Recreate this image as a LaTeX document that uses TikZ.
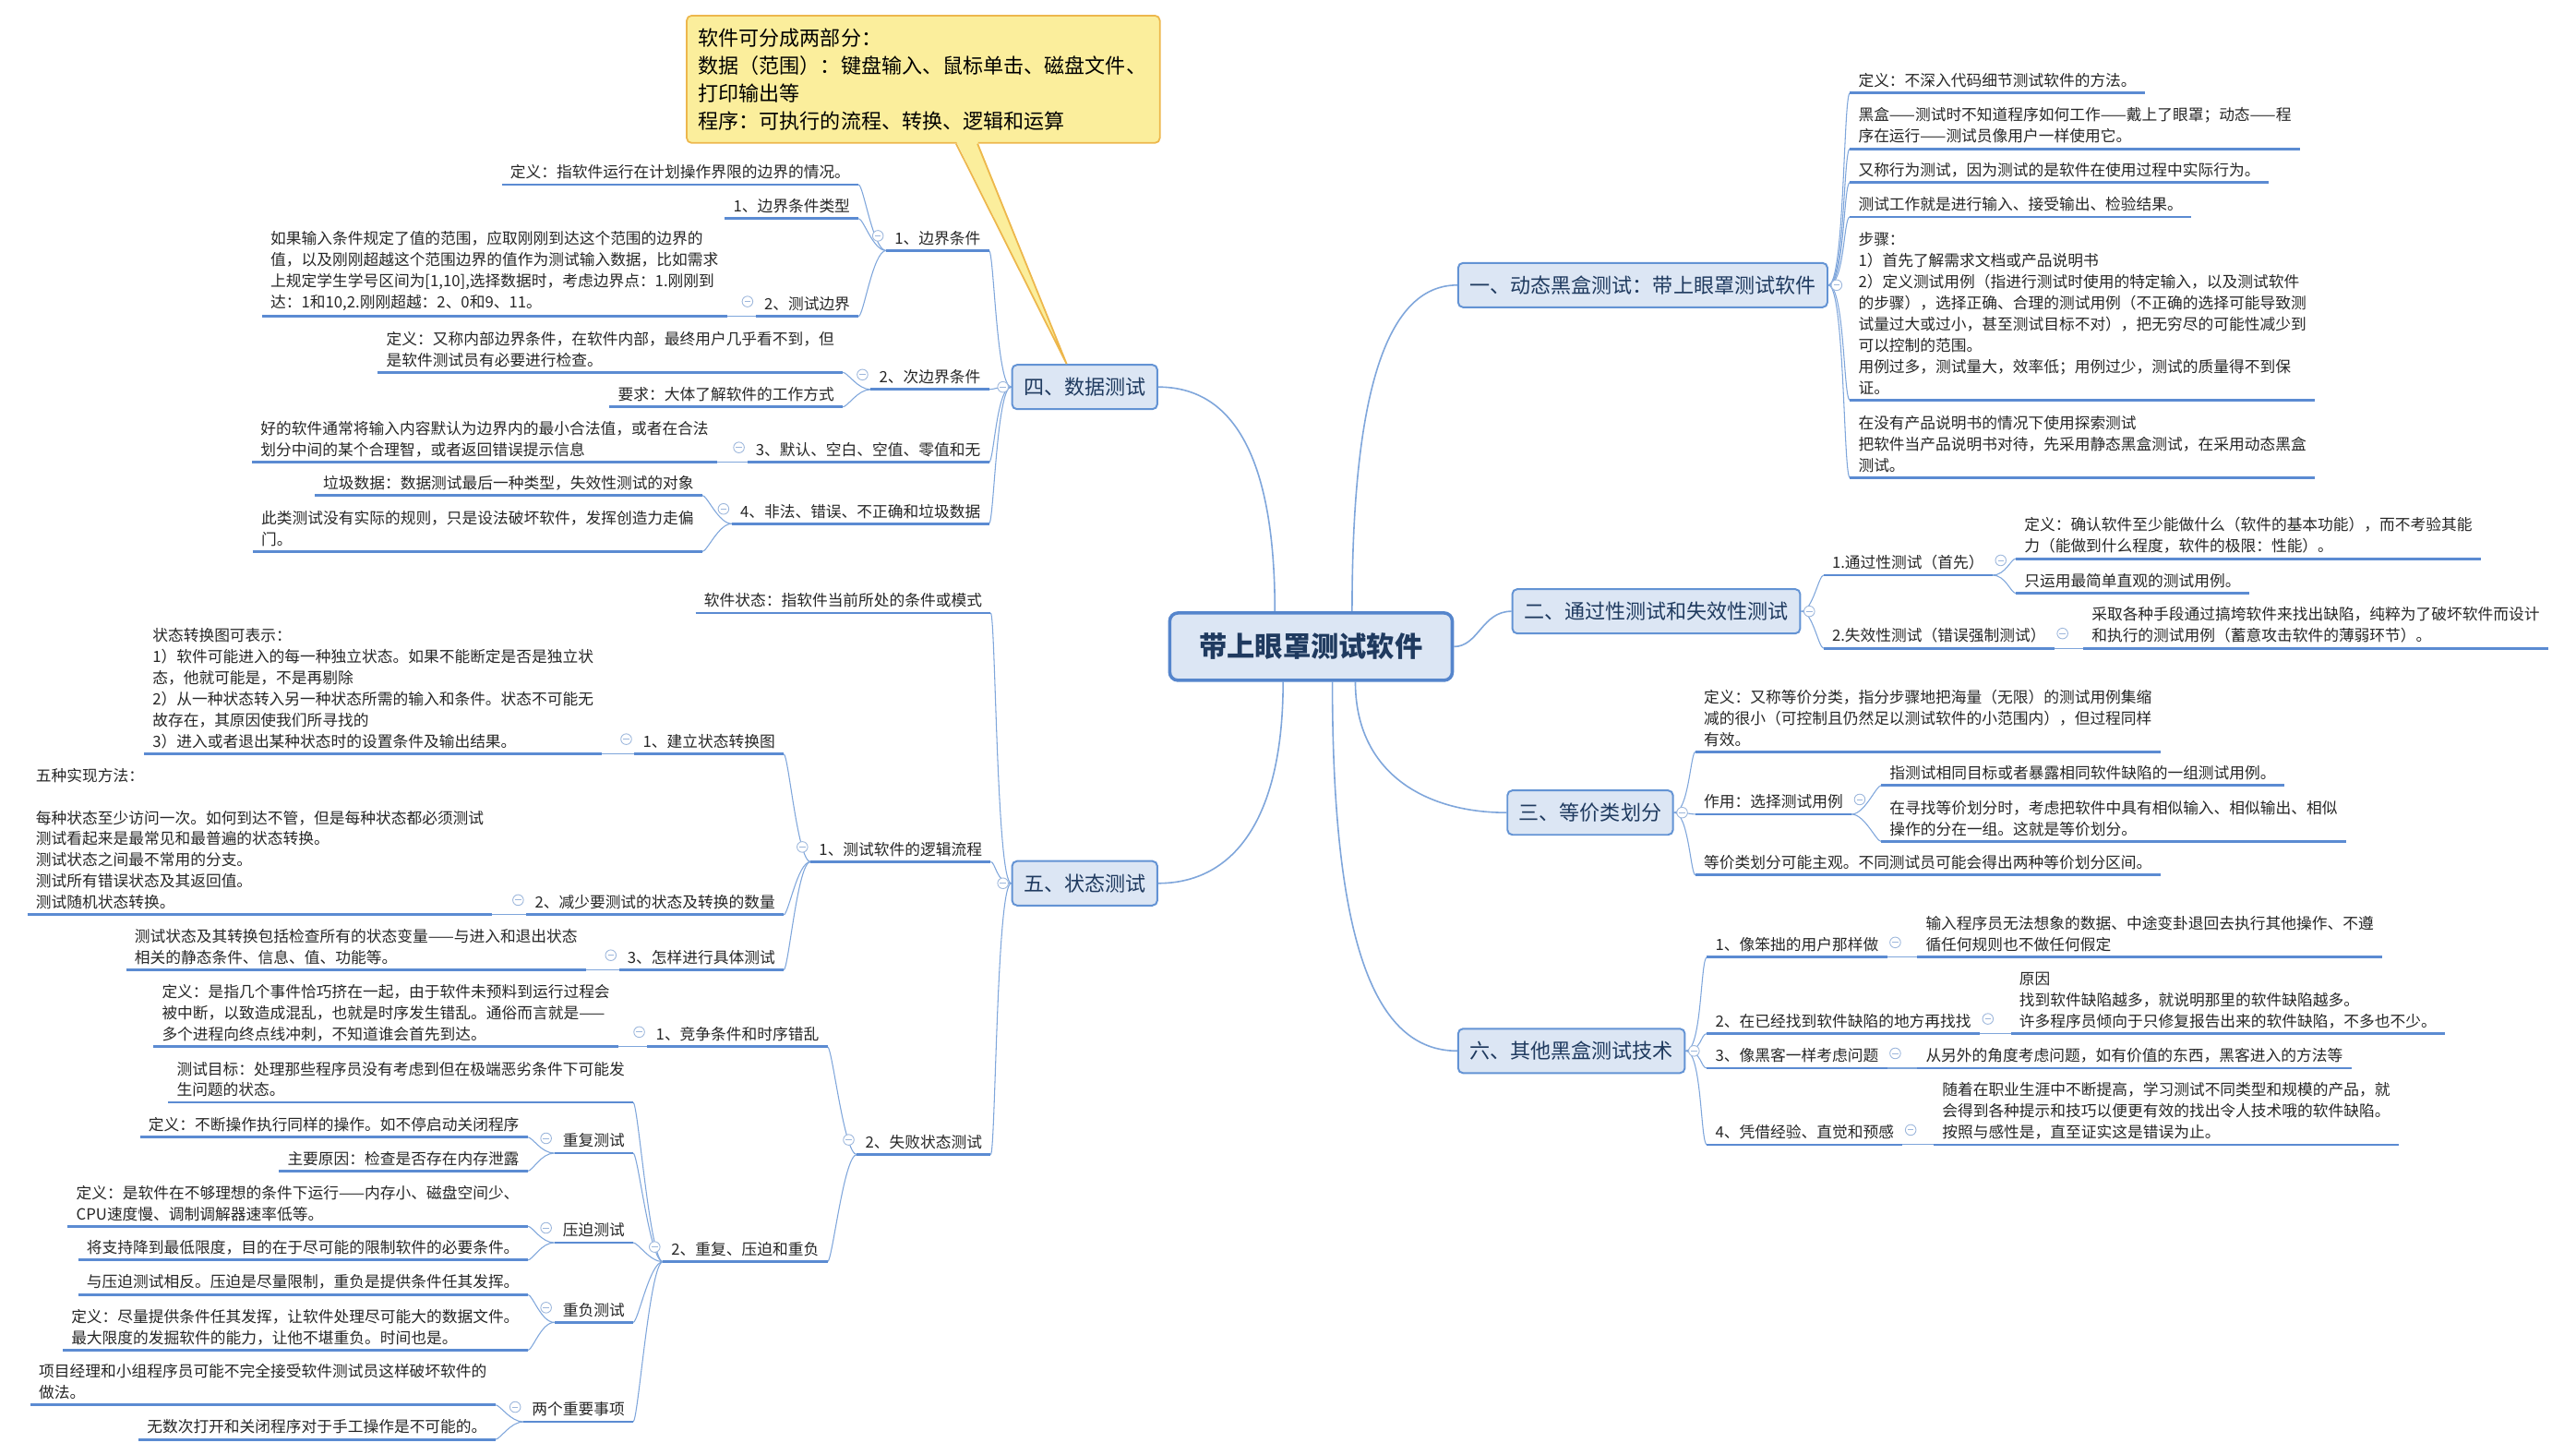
\documentclass[tikz,border=0pt]{standalone}
\usepackage{fontspec}
\setmainfont{Noto Sans CJK SC}
\usepackage{tikz}
\usetikzlibrary{backgrounds}
\usepackage{xcolor}
\definecolor{mapblue}{HTML}{5B8BD2}
\definecolor{linkblue}{HTML}{7FA6DB}
\definecolor{topicfill}{HTML}{DCE6F4}
\definecolor{topicline}{HTML}{6393D4}
\definecolor{rootline}{HTML}{5585CC}
\definecolor{topicink}{HTML}{1F3A5F}
\definecolor{foldline}{HTML}{9DB7DC}
\definecolor{notefill}{HTML}{FBEE9C}
\definecolor{noteline}{HTML}{EDB74C}

\begin{document}
\begin{tikzpicture}[x=1pt, y=-1pt,
  root/.style={draw=rootline, line width=2pt, fill=topicfill, rounded corners=5pt,
    minimum width=172pt, minimum height=41pt,
    font=\fontsize{17}{20}\selectfont\bfseries, text=topicink},
  topic/.style={draw=topicline, line width=1.1pt, fill=topicfill, rounded corners=3pt,
    minimum height=27pt, inner xsep=7pt, font=\fontsize{12.4}{15}\selectfont, text=topicink},
  leaf/.style={font=\fontsize{9.4}{12.9}\selectfont, text=black!85, align=left,
    inner xsep=5pt, inner ysep=3pt,
    append after command={(\tikzlastnode.south west) edge[uline] (\tikzlastnode.south east)}},
  uline/.style={draw=mapblue, line width=1.6pt},
  link/.style={draw=linkblue, line width=0.6pt},
  trunk/.style={draw=linkblue, line width=0.9pt},
  fold/.style={circle, draw=foldline, fill=white, line width=0.5pt, minimum size=6.5pt,
    inner sep=0pt, path picture={\draw[foldline, line width=0.5pt]
      ([xshift=-1.8pt]path picture bounding box.center) --
      ([xshift=1.8pt]path picture bounding box.center);}},
  note/.style={draw=noteline, line width=1pt, fill=notefill, rounded corners=3pt,
    align=left, text width=274pt, minimum height=77.5pt, inner xsep=7pt,
    font=\fontsize{12.4}{16.85}\selectfont}
]
  \useasboundingbox (0,0) rectangle (1568,885);

  % Root
  \node[root] (root) at (798,393.5) {带上眼罩测试软件};

  % Main topics
  \node[topic, anchor=west] (t1) at (887,173.5) {一、动态黑盒测试：带上眼罩测试软件};
  \node[topic, anchor=west] (t2) at (920,372) {二、通过性测试和失效性测试};
  \node[topic, anchor=west] (t3) at (917,494.5) {三、等价类划分};
  \node[topic, anchor=east] (t4) at (705,235.5) {四、数据测试};
  \node[topic, anchor=east] (t5) at (705,537.5) {五、状态测试};
  \node[topic, anchor=west] (t6) at (887,639.5) {六、其他黑盒测试技术};

  % Note
  \node[note, anchor=north west] (note) at (417.5,9)
    {软件可分成两部分：\\数据（范围）：键盘输入、鼠标单击、磁盘文件、\\打印输出等\\程序：可执行的流程、转换、逻辑和运算};

  % 一
  \node[leaf, anchor=south west] (a1) at (1126,56.7) {定义：不深入代码细节测试软件的方法。};
  \node[leaf, anchor=south west] (a2) at (1126,90.5) {黑盒——测试时不知道程序如何工作——戴上了眼罩；动态——程\\
    序在运行——测试员像用户一样使用它。};
  \node[leaf, anchor=south west] (a3) at (1126,111) {又称行为测试，因为测试的是软件在使用过程中实际行为。};
  \node[leaf, anchor=south west] (a4) at (1126,132) {测试工作就是进行输入、接受输出、检验结果。};
  \node[leaf, anchor=south west] (a5) at (1126,243.5) {步骤：\\
    1）首先了解需求文档或产品说明书\\
    2）定义测试用例（指进行测试时使用的特定输入，以及测试软件\\
    的步骤），选择正确、合理的测试用例（不正确的选择可能导致测\\
    试量过大或过小，甚至测试目标不对），把无穷尽的可能性减少到\\
    可以控制的范围。\\
    用例过多，测试量大，效率低；用例过少，测试的质量得不到保\\
    证。};
  \node[leaf, anchor=south west] (a6) at (1126,290.7) {在没有产品说明书的情况下使用探索测试\\
    把软件当产品说明书对待，先采用静态黑盒测试，在采用动态黑盒\\
    测试。};

  % 二
  \node[leaf, anchor=south west] (b1) at (1110,350) {1.通过性测试（首先）};
  \node[leaf, anchor=south west] (b2) at (1110,394.5) {2.失效性测试（错误强制测试）};
  \node[leaf, anchor=south west] (b11) at (1227,340) {定义：确认软件至少能做什么（软件的基本功能），而不考验其能\\
    力（能做到什么程度，软件的极限：性能）。};
  \node[leaf, anchor=south west] (b12) at (1227,361) {只运用最简单直观的测试用例。};
  \node[leaf, anchor=south west] (b21) at (1268,394.5) {采取各种手段通过搞垮软件来找出缺陷，纯粹为了破坏软件而设计\\
    和执行的测试用例（蓄意攻击软件的薄弱环节）。};

  % 三
  \node[leaf, anchor=south west] (c1) at (1032,457.5) {定义：又称等价分类，指分步骤地把海量（无限）的测试用例集缩\\
    减的很小（可控制且仍然足以测试软件的小范围内），但过程同样\\
    有效。};
  \node[leaf, anchor=south west] (c2) at (1032,495.5) {作用：选择测试用例};
  \node[leaf, anchor=south west] (c21) at (1145,478) {指测试相同目标或者暴露相同软件缺陷的一组测试用例。};
  \node[leaf, anchor=south west] (c22) at (1145,512) {在寻找等价划分时，考虑把软件中具有相似输入、相似输出、相似\\
    操作的分在一组。这就是等价划分。};
  \node[leaf, anchor=south west] (c3) at (1032,532.5) {等价类划分可能主观。不同测试员可能会得出两种等价划分区间。};

  % 六
  \node[leaf, anchor=south west] (d1) at (1039,582.5) {1、像笨拙的用户那样做};
  \node[leaf, anchor=south west] (d11) at (1167,582.5) {输入程序员无法想象的数据、中途变卦退回去执行其他操作、不遵\\
    循任何规则也不做任何假定};
  \node[leaf, anchor=south west] (d2) at (1039,629) {2、在已经找到软件缺陷的地方再找找};
  \node[leaf, anchor=south west] (d21) at (1224,629) {原因\\
    找到软件缺陷越多，就说明那里的软件缺陷越多。\\
    许多程序员倾向于只修复报告出来的软件缺陷，不多也不少。};
  \node[leaf, anchor=south west] (d3) at (1039,650) {3、像黑客一样考虑问题};
  \node[leaf, anchor=south west] (d31) at (1167,650) {从另外的角度考虑问题，如有价值的东西，黑客进入的方法等};
  \node[leaf, anchor=south west] (d4) at (1039,696.6) {4、凭借经验、直觉和预感};
  \node[leaf, anchor=south west] (d41) at (1177,696.6) {随着在职业生涯中不断提高，学习测试不同类型和规模的产品，就\\
    会得到各种提示和技巧以便更有效的找出令人技术哦的软件缺陷。\\
    按照与感性是，直至证实这是错误为止。};

  % 四
  \node[leaf, anchor=south east] (e1) at (602,152.5) {1、边界条件};
  \node[leaf, anchor=south east] (e11) at (522.6,112.4) {定义：指软件运行在计划操作界限的边界的情况。};
  \node[leaf, anchor=south east] (e12) at (522.6,133) {1、边界条件类型};
  \node[leaf, anchor=south east] (e13) at (522.6,192.5) {2、测试边界};
  \node[leaf, anchor=south east] (e131) at (442.5,192.5) {如果输入条件规定了值的范围，应取刚刚到达这个范围的边界的\\
    值，以及刚刚超越这个范围边界的值作为测试输入数据，比如需求\\
    上规定学生学号区间为[1,10],选择数据时，考虑边界点：1.刚刚到\\
    达：1和10,2.刚刚超越：2、0和9、11。};
  \node[leaf, anchor=south east] (e2) at (602,237) {2、次边界条件};
  \node[leaf, anchor=south east] (e21) at (513,226.6) {定义：又称内部边界条件，在软件内部，最终用户几乎看不到，但\\
    是软件测试员有必要进行检查。};
  \node[leaf, anchor=south east] (e22) at (513,247.6) {要求：大体了解软件的工作方式};
  \node[leaf, anchor=south east] (e3) at (602,281.3) {3、默认、空白、空值、零值和无};
  \node[leaf, anchor=south east] (e31) at (436.5,281.3) {好的软件通常将输入内容默认为边界内的最小合法值，或者在合法\\
    划分中间的某个合理智，或者返回错误提示信息};
  \node[leaf, anchor=south east] (e4) at (602,318.7) {4、非法、错误、不正确和垃圾数据};
  \node[leaf, anchor=south east] (e41) at (427.5,301.5) {垃圾数据：数据测试最后一种类型，失效性测试的对象};
  \node[leaf, anchor=south east] (e42) at (427.5,335.6) {此类测试没有实际的规则，只是设法破坏软件，发挥创造力走偏\\
    门。};

  % 五
  \node[leaf, anchor=south east] (g1) at (603,373) {软件状态：指软件当前所处的条件或模式};
  \node[leaf, anchor=south east] (g2) at (603,524.4) {1、测试软件的逻辑流程};
  \node[leaf, anchor=south east] (g21) at (477,458.8) {1、建立状态转换图};
  \node[leaf, anchor=south east] (g211) at (366.5,458.8) {状态转换图可表示：\\
    1）软件可能进入的每一种独立状态。如果不能断定是否是独立状\\
    态，他就可能是，不是再剔除\\
    2）从一种状态转入另一种状态所需的输入和条件。状态不可能无\\
    故存在，其原因使我们所寻找的\\
    3）进入或者退出某种状态时的设置条件及输出结果。};
  \node[leaf, anchor=south east] (g22) at (477,556.7) {2、减少要测试的状态及转换的数量};
  \node[leaf, anchor=south east] (g221) at (299.7,556.7) {五种实现方法：\\[12.9pt]
    每种状态至少访问一次。如何到达不管，但是每种状态都必须测试\\
    测试看起来是最常见和最普遍的状态转换。\\
    测试状态之间最不常用的分支。\\
    测试所有错误状态及其返回值。\\
    测试随机状态转换。};
  \node[leaf, anchor=south east] (g23) at (477,590.3) {3、怎样进行具体测试};
  \node[leaf, anchor=south east] (g231) at (356.7,590.3) {测试状态及其转换包括检查所有的状态变量——与进入和退出状态\\
    相关的静态条件、信息、值、功能等。};
  \node[leaf, anchor=south east] (g3) at (603,702.6) {2、失败状态测试};
  \node[leaf, anchor=south east] (g31) at (503.7,637) {1、竞争条件和时序错乱};
  \node[leaf, anchor=south east] (g311) at (376.4,637) {定义：是指几个事件恰巧挤在一起，由于软件未预料到运行过程会\\
    被中断，以致造成混乱，也就是时序发生错乱。通俗而言就是——\\
    多个进程向终点线冲刺，不知道谁会首先到达。};
  \node[leaf, anchor=south east] (g32) at (503.7,767.8) {2、重复、压迫和重负};
  \node[leaf, anchor=south east] (g321) at (385.4,670.8) {测试目标：处理那些程序员没有考虑到但在极端恶劣条件下可能发\\
    生问题的状态。};
  \node[leaf, anchor=south east] (g322) at (385.4,701.7) {重复测试};
  \node[leaf, anchor=south east] (g3221) at (321.2,692) {定义：不断操作执行同样的操作。如不停启动关闭程序};
  \node[leaf, anchor=south east] (g3222) at (321.2,712.6) {主要原因：检查是否存在内存泄露};
  \node[leaf, anchor=south east] (g323) at (385.4,756.2) {压迫测试};
  \node[leaf, anchor=south east] (g3231) at (321.2,746.2) {定义：是软件在不够理想的条件下运行——内存小、磁盘空间少、\\
    CPU速度慢、调制调解器速率低等。};
  \node[leaf, anchor=south east] (g3232) at (321.2,766.8) {将支持降到最低限度，目的在于尽可能的限制软件的必要条件。};
  \node[leaf, anchor=south east] (g324) at (385.4,804.7) {重负测试};
  \node[leaf, anchor=south east] (g3241) at (321.2,787.8) {与压迫测试相反。压迫是尽量限制，重负是提供条件任其发挥。};
  \node[leaf, anchor=south east] (g3242) at (321.2,821.7) {定义：尽量提供条件任其发挥，让软件处理尽可能大的数据文件。\\
    最大限度的发掘软件的能力，让他不堪重负。时间也是。};
  \node[leaf, anchor=south east] (g325) at (385.4,865.2) {两个重要事项};
  \node[leaf, anchor=south east] (g3251) at (301.5,854.9) {项目经理和小组程序员可能不完全接受软件测试员这样破坏软件的\\
    做法。};
  \node[leaf, anchor=south east] (g3252) at (301.5,875.9) {无数次打开和关闭程序对于手工操作是不可能的。};

  % Fold markers
  \foreach \tp in {t1,t2,t3,t6}
    \node[fold] (fold-\tp) at ([xshift=5pt]\tp.east) {};
  \foreach \tp in {t4,t5}
    \node[fold] (fold-\tp) at ([xshift=-5pt]\tp.west) {};
  \foreach \n in {b1,b2,c2,d1,d2,d3,d4}
    \node[fold] (fold-\n) at ([xshift=5pt,yshift=9pt]\n.south east) {};
  \foreach \n in {e1,e13,e2,e3,e4,g2,g21,g22,g23,g3,g31,g32,g322,g323,g324,g325}
    \node[fold] (fold-\n) at ([xshift=-5pt,yshift=9pt]\n.south west) {};

  % Note pointer
  \fill[notefill] ([xshift=20pt,yshift=1.5pt]note.south) -- ([xshift=33pt,yshift=1.5pt]note.south)
    -- ([xshift=-11pt]t4.north) -- cycle;
  \draw[noteline, line width=1pt] ([xshift=20pt]note.south) -- ([xshift=-11pt]t4.north)
    -- ([xshift=33pt]note.south);

  % Connectors
  \begin{scope}[on background layer]
    \draw[trunk] ([xshift=25pt]root.north) .. controls +(0,-110) and +(-50,0) .. (t1.west);
    \draw[trunk] (root.east) .. controls +(15,0) and +(-18,0) .. (t2.west);
    \draw[trunk] ([xshift=27pt]root.south) .. controls +(0,55) and +(-50,0) .. (t3.west);
    \draw[trunk] ([xshift=13pt]root.south) .. controls +(0,160) and +(-50,0) .. (t6.west);
    \draw[trunk] ([xshift=-22pt]root.north) .. controls +(0,-95) and +(45,0) .. (t4.east);
    \draw[trunk] ([xshift=-17pt]root.south) .. controls +(0,85) and +(45,0) .. (t5.east);

    \foreach \dst in {a1,a2,a3,a4,a5,a6}
      \draw[link] (t1.east) .. controls +(10,0) and +(-4,0) .. (\dst.south west);
    \foreach \dst in {b1,b2}
      \draw[link] (t2.east) .. controls +(7,0) and +(-3,0) .. (\dst.south west);
    \foreach \dst in {c1,c2,c3}
      \draw[link] (t3.east) .. controls +(9,0) and +(-3,0) .. (\dst.south west);
    \foreach \dst in {d1,d2,d3,d4}
      \draw[link] (t6.east) .. controls +(10,0) and +(-4,0) .. (\dst.south west);
    \foreach \dst in {e1,e2,e3,e4}
      \draw[link] (t4.west) .. controls +(-9,0) and +(3,0) .. (\dst.south east);
    \foreach \dst in {g1,g2,g3}
      \draw[link] (t5.west) .. controls +(-9,0) and +(3,0) .. (\dst.south east);
    \foreach \src/\dst in {b1/b11,b1/b12,b2/b21,c2/c21,c2/c22,d1/d11,d2/d21,d3/d31,d4/d41}
      \draw[link] (\src.south east) .. controls +(8,0) and +(-3,0) .. (\dst.south west);
    \foreach \src/\dst in {e1/e11,e1/e12,e1/e13,e13/e131,e2/e21,e2/e22,e3/e31,e4/e41,e4/e42,
        g2/g21,g2/g22,g2/g23,g21/g211,g22/g221,g23/g231,g3/g31,g3/g32,g31/g311,
        g32/g321,g32/g322,g32/g323,g32/g324,g32/g325,g322/g3221,g322/g3222,
        g323/g3231,g323/g3232,g324/g3241,g324/g3242,g325/g3251,g325/g3252}
      \draw[link] (\src.south west) .. controls +(-8,0) and +(3,0) .. (\dst.south east);
  \end{scope}
\end{tikzpicture}
\end{document}
